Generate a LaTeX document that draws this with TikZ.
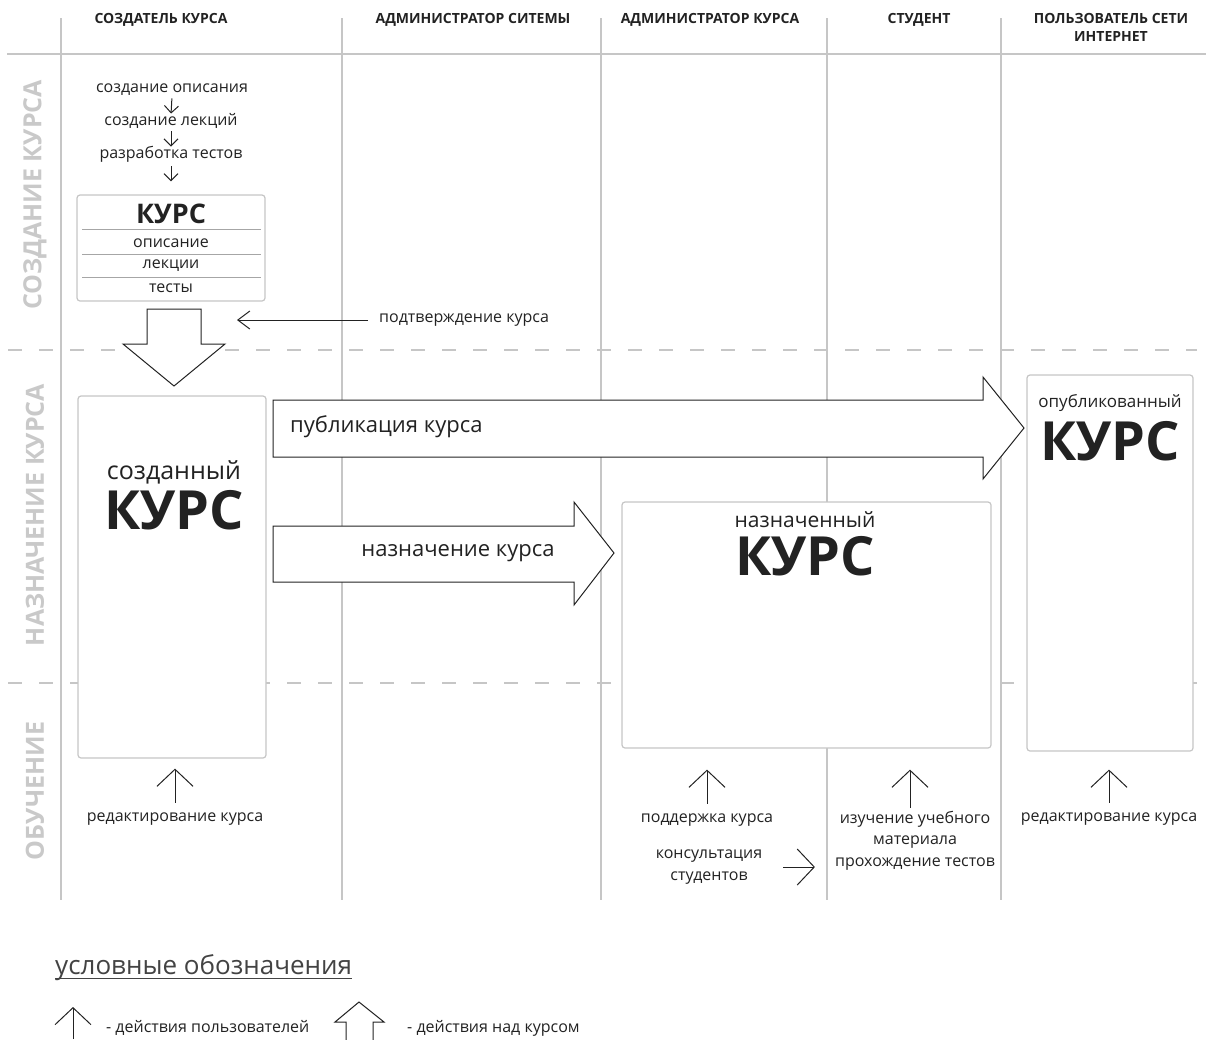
\documentclass[tikz,border=0pt]{standalone}
\usepackage{fontspec}
\setmainfont{Open Sans}
\usetikzlibrary{arrows.meta,calc}
\definecolor{lanegray}{HTML}{C6C6C6}
\definecolor{stagegray}{HTML}{C9C9C9}
\definecolor{ink}{HTML}{222222}
\newcommand{\fsz}[2]{\fontsize{#1}{#2}\selectfont}

\begin{document}
\begin{tikzpicture}[x=1pt,y=-1pt,
  lane/.style={lanegray,line width=1.2pt},
  sep/.style={lanegray,line width=1.2pt,dash pattern=on 14pt off 17pt},
  box/.style={draw=lanegray,fill=white,line width=1.2pt,rounded corners=3pt,inner sep=0pt},
  blk/.style={draw=ink,fill=white,line width=1pt},
  act/.style={ink,line width=1pt,-{Straight Barb[length=17pt,width=36pt]}},
  stp/.style={ink,line width=1pt,-{Straight Barb[length=7pt,width=14pt]}},
  txt/.style={font=\fsz{16}{21.5},text=ink,align=center,inner sep=0pt},
  role/.style={font=\bfseries\fsz{14}{18},text=ink,align=center,inner sep=0pt},
  stage/.style={font=\bfseries\fsz{25}{25},text=stagegray,rotate=90,inner sep=0pt},
  big/.style={font=\bfseries\fsz{54}{54},text=ink,inner sep=0pt}]

\useasboundingbox (0,0) rectangle (1206,1039);

% swimlanes
\foreach \x in {61,342,601,827,1001}
  \draw[lane] (\x,18) -- (\x,900);
\draw[lane] (7,54) -- (1206,54);
\draw[sep] (8,350) -- (1197,350);
\draw[sep] (8,683) -- (1197,683);

\node[role] (hcreator) at (161,20) {СОЗДАТЕЛЬ КУРСА};
\node[role] (hsysadm) at (473,20) {АДМИНИСТРАТОР СИТЕМЫ};
\node[role] (hcrsadm) at (710,20) {АДМИНИСТРАТОР КУРСА};
\node[role] (hstudent) at (919,20) {СТУДЕНТ};
\node[role,anchor=north] (hweb) at (1111,13) {ПОЛЬЗОВАТЕЛЬ СЕТИ\\ИНТЕРНЕТ};

\node[stage] (rcreate) at (35,195) {СОЗДАНИЕ КУРСА};
\node[stage] (rassign) at (35,515) {НАЗНАЧЕНИЕ КУРСА};
\node[stage] (rlearn) at (35,791) {ОБУЧЕНИЕ};

% creation steps
\node[txt,text height=11pt,text depth=3.5pt] (s1) at (172,89) {создание описания};
\node[txt,text height=11pt,text depth=3.5pt] (s2) at (171,122) {создание лекций};
\node[txt,text height=11pt,text depth=3.5pt] (s3) at (171,155) {разработка тестов};

\node[box,minimum width=188pt,minimum height=106pt] (course) at (171,248) {};
\node[font=\bfseries\fsz{27}{27},text=ink,inner sep=0pt] (ctitle) at (171,214) {КУРС};
\draw[gray!70,line width=0.8pt] (82,229) -- (261,229);
\draw[gray!70,line width=0.8pt] (82,254) -- (261,254);
\draw[gray!70,line width=0.8pt] (82,277) -- (261,277);
\node[txt] (cdesc) at (171,243) {описание};
\node[txt] (clect) at (171,266) {лекции};
\node[txt] (ctest) at (171,288) {тесты};

\draw[stp,shorten <=2pt,shorten >=1pt] (s1.south) -- (s2.north);
\draw[stp,shorten <=2pt,shorten >=1pt] (s2.south) -- (s3.north);
\draw[stp,shorten <=4pt,shorten >=13pt] (s3.south) -- (course.north);

\draw[blk] (147,309) -- (201,309) -- (201,344) -- (225,344) -- (174,386)
  -- (123,344) -- (147,344) -- cycle;

\node[txt,anchor=west] (confirm) at (379,320) {подтверждение курса};
\coordinate (cnftip) at (237,320);
\draw[ink,line width=1pt,-{Straight Barb[length=12pt,width=18pt]},shorten <=11pt]
  (confirm.west) -- (cnftip);

% courses
\node[box,minimum width=188pt,minimum height=362pt] (created) at (172,577) {};
\node[box,minimum width=369pt,minimum height=246pt] (assigned) at (806.5,625) {};
\node[box,minimum width=166pt,minimum height=376pt] (published) at (1110,563) {};

\node[font=\fsz{25}{25},text=ink,inner sep=0pt] (crlbl) at (174,472) {созданный};
\node[big] (crkurs) at (174,510) {КУРС};
\node[font=\fsz{21}{21},text=ink,inner sep=0pt] (aslbl) at (805,520) {назначенный};
\node[big] (askurs) at (805,556) {КУРС};
\node[font=\fsz{17}{17},text=ink,inner sep=0pt] (pblbl) at (1110,403) {опубликованный};
\node[big] (pbkurs) at (1110,441) {КУРС};

\draw[blk] (273,400) -- (983,400) -- (983,377) -- (1024,428) -- (983,479)
  -- (983,457) -- (273,457) -- cycle;
\node[font=\fsz{22}{22},text=ink,inner sep=0pt,anchor=west] (publish) at (290,427) {публикация курса};
\draw[blk] (273,526) -- (574,526) -- (574,502) -- (614,553) -- (574,605)
  -- (574,582) -- (273,582) -- cycle;
\node[font=\fsz{22}{22},text=ink,inner sep=0pt] (assign) at (458,553) {назначение курса};

% user actions
\node[txt,text height=11pt,text depth=3.5pt] (edit1) at (175,818) {редактирование курса};
\node[txt,text height=11pt,text depth=3.5pt] (support) at (707,819) {поддержка курса};
\node[txt] (consult) at (709,867) {консультация\\студентов};
\node[txt,anchor=north] (study) at (915,811) {изучение учебного\\материала\\прохождение тестов};
\node[txt,text height=11pt,text depth=3.5pt] (edit2) at (1109,818) {редактирование курса};

\draw[act,shorten <=8pt,shorten >=10pt] (edit1.north) -- (edit1.north |- created.south);
\draw[act,shorten <=8pt,shorten >=21pt] (support.north) -- (support.north |- assigned.south);
\draw[act,shorten <=3pt,shorten >=21pt] ([xshift=-5pt]study.north) -- ([xshift=-5pt]study.north |- assigned.south);
\draw[act,shorten <=8pt,shorten >=18pt] (edit2.north) -- (edit2.north |- published.south);
\draw[act,shorten <=21pt,shorten >=20pt] (consult.east) -- (consult.east -| study.west);

% legend
\node[font=\fsz{26}{26},text=ink!85,inner sep=0pt,anchor=west] (legtitle) at (55,968) {условные обозначения};
\draw[ink!85,line width=1pt] ($(legtitle.base west)+(0,4)$) -- ($(legtitle.base east)+(0,4)$);
\coordinate (legfoot) at (73,1039);
\coordinate (legtip) at (73,1007);
\draw[act] (legfoot) -- (legtip);
\node[txt,anchor=west] (legusr) at (106,1028) {- действия пользователей};
\draw[blk] (346,1040) -- (346,1022) -- (335,1022) -- (359,1002) -- (384,1022)
  -- (373,1022) -- (373,1040);
\node[txt,anchor=west] (legcrs) at (407,1028) {- действия над курсом};
\end{tikzpicture}
\end{document}
